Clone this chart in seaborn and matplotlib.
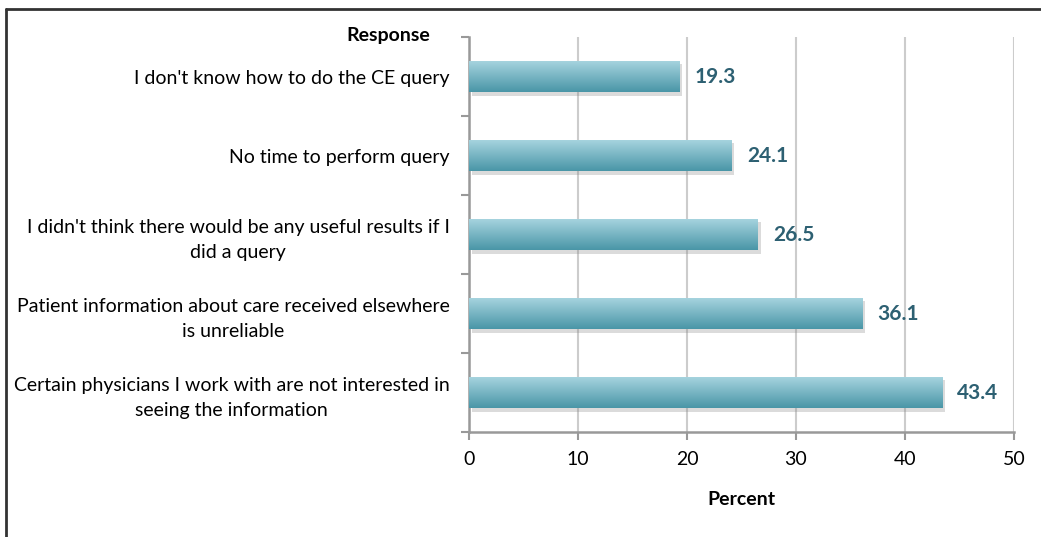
import numpy as np
import pandas as pd
import matplotlib
matplotlib.use("Agg")
import matplotlib.pyplot as plt
import matplotlib.patheffects as pe
from matplotlib.lines import Line2D
from matplotlib.colors import LinearSegmentedColormap
import seaborn as sb

responses = [
    "I don't know how to do the CE query",
    "No time to perform query",
    "I didn't think there would be any useful results if I\ndid a query",
    "Patient information about care received elsewhere\nis unreliable",
    "Certain physicians I work with are not interested in\nseeing the information",
]
percents = [19.3, 24.1, 26.5, 36.1, 43.4]
xticks = [0, 10, 20, 30, 40, 50]

sb.set_style("white")
plt.rcParams["font.family"] = ["Lato", "DejaVu Sans"]
plt.rcParams["text.color"] = "black"
plt.rcParams["xtick.color"] = "black"
plt.rcParams["ytick.color"] = "black"
plt.rcParams["axes.labelcolor"] = "black"

data = pd.DataFrame({"Response": responses, "Percent": percents})

fig = plt.figure(figsize=(10.41, 5.37), dpi=100)
ax = fig.add_axes([0.4505, 0.1955, 0.5235, 0.7355])

sb.barplot(data=data, x="Percent", y="Response", orient="h", width=0.4,
           color="#6fb3c2", ax=ax, zorder=3)

# gradient fill + soft drop shadow for each bar
grad = LinearSegmentedColormap.from_list("bar", ["#a8d5e0", "#4a96a7"])
for p in ax.patches:
    p.set_edgecolor("none")
    p.set_path_effects([pe.SimplePatchShadow(offset=(2, -2.5), shadow_rgbFace="#888888", alpha=0.3),
                        pe.Normal()])
    x0, y0 = p.get_x(), p.get_y()
    w, h = p.get_width(), p.get_height()
    im = ax.imshow(np.linspace(0, 1, 100).reshape(-1, 1), cmap=grad, aspect="auto",
                   extent=[x0, x0 + w, y0 + h, y0], origin="upper", zorder=4)
    im.set_clip_path(p)

for i, v in enumerate(percents):
    ax.annotate(f"{v}", xy=(v, i), xytext=(11, 0), textcoords="offset points",
                va="center", ha="left", fontsize=15, fontweight="bold", color="#2d6072")

ax.set_xlim(0, 50)
ax.set_ylim(4.5, -0.5)
ax.set_xticks(xticks)
ax.set_xticklabels([str(t) for t in xticks], fontsize=14)
ax.set_yticks(range(len(responses)))
ax.set_yticklabels(responses, fontsize=14, multialignment="center", linespacing=1.55)
ax.set_yticks(np.arange(-0.5, len(responses), 1), minor=True)
ax.tick_params(axis="y", which="major", left=False, length=0, pad=14)
ax.tick_params(axis="y", which="minor", left=True, length=6, width=1.5, color="#999999", direction="out")
ax.tick_params(axis="x", bottom=True, length=6, width=1.5, color="#999999", direction="out", pad=8)

ax.grid(axis="x", color="#cccccc", linewidth=1.5, zorder=0)
ax.set_axisbelow(True)
for s in ["top", "right"]:
    ax.spines[s].set_visible(False)
for s in ["left", "bottom"]:
    ax.spines[s].set_color("#999999")
    ax.spines[s].set_linewidth(1.8)

ax.set_xlabel("Percent", fontsize=14, fontweight="bold", labelpad=16)
ax.set_ylabel("")
fig.text(0.413, 0.934, "Response", fontsize=14, fontweight="bold", ha="right", va="center")

# outer frame (only top and left visible)
fig.add_artist(Line2D([0.0058, 1.0], [0.983, 0.983], transform=fig.transFigure, color="#333333", lw=2))
fig.add_artist(Line2D([0.0058, 0.0058], [0.0, 0.983], transform=fig.transFigure, color="#333333", lw=2))

fig.savefig("out.png", dpi=100)
